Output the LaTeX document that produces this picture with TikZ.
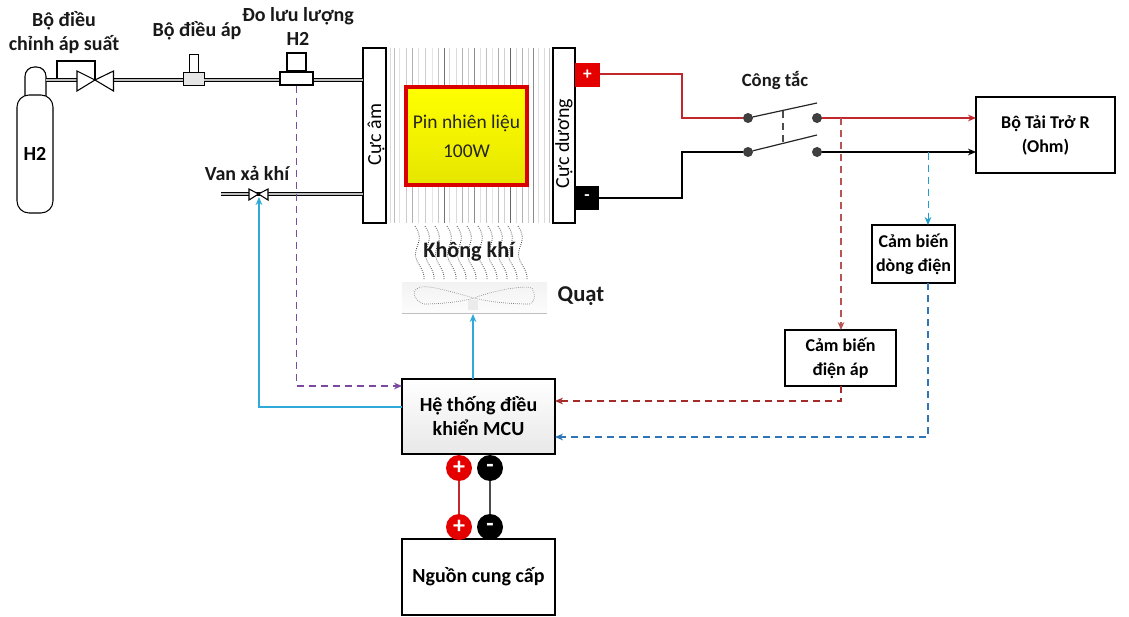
\documentclass[tikz,border=0pt]{standalone}
\usepackage{fontspec}
\setmainfont{Carlito}
\usetikzlibrary{arrows.meta,calc}
\definecolor{wirered}{HTML}{C0282D}
\definecolor{sensred}{HTML}{A52A2A}
\definecolor{sensblue}{HTML}{2E75B6}
\definecolor{ctlcyan}{HTML}{2FA9D8}
\definecolor{ctlviolet}{HTML}{7B4A9E}
\tikzset{
  lbl/.style={font=\fontsize{15}{18}\selectfont\bfseries,align=center,text=black!90,inner sep=0pt},
  frame/.style={draw=black,line width=1.1pt,fill=white,inner sep=0pt,outer sep=0pt,align=center,font=\fontsize{13.5}{18}\selectfont\bfseries},
  pole/.style={frame},
  poletext/.style={rotate=90,inner sep=0pt,font=\fontsize{15}{16}\selectfont,text=black},
  pipe/.style={line width=3.2pt,black,postaction={draw=white!75!black,line width=1.1pt}},
  term/.style={circle,fill=black!75,draw=black!80,inner sep=0pt,minimum size=7pt},
  wred/.style={draw=wirered,line width=1.1pt},
  wblk/.style={draw=black,line width=1.1pt},
  tip/.style={-{Stealth[length=6pt,width=5pt]}},
  sdash/.style={dash pattern=on 5.5pt off 3.5pt,line width=.85pt},
  cyanline/.style={draw=ctlcyan,line width=1pt,tip},
  knob/.style={circle,inner sep=0pt,minimum size=19.5pt,text=white,font=\fontsize{18}{18}\selectfont\bfseries},
}
\newcommand{\pbox}[7][]{% name x1 y1 x2 y2 style text
  \pgfmathsetmacro{\pw}{(#4-#2)*.75}\pgfmathsetmacro{\ph}{(#5-#3)*.75}
  \node[#6,minimum width=\pw pt,minimum height=\ph pt] (#1) at ({(#2+#4)/2},{(#3+#5)/2}) {#7};}
\begin{document}
\begin{tikzpicture}[x=.75pt,y=-.75pt]
\useasboundingbox (0,0) rectangle (1129,617);
% fuel stack fins
\foreach \xx/\gg in {390/14,394/25,399/10,406/20,412/30,418/12,425/20,432/10,438/22,444/55,449/15,456/14,462/30,468/18,474/45,480/12,486/25,492/10,498/32,504/18,510/60,516/14,522/30,528/18,533/45,538/12,544/14,549/22}
  \draw[black!\gg,line width=.7pt] (\xx,48) -- (\xx,223);
% poles and cell
\pbox[neg]{363}{48}{386}{223}{pole}{}
\pbox[pos]{553}{48}{575}{223}{pole}{}
\node[poletext] (negt) at (376,134.5) {Cực âm};
\node[poletext] (post) at (564,143.5) {Cực dương};
\pbox[cell]{406}{87}{527}{185}{draw=red!85!black,line width=2.4pt,top color=yellow,bottom color=yellow!90!black,inner sep=0pt,align=center,font=\fontsize{14.6}{22}\selectfont,text=black!85}{Pin nhiên liệu\\100W}
\pbox[pp]{575}{63}{600}{87}{fill=red!90!black,text=white,inner sep=0pt,font=\fontsize{13}{13}\selectfont\bfseries}{+}
\pbox[pm]{575}{186}{599}{210}{fill=black,text=white,inner sep=0pt,font=\fontsize{13}{13}\selectfont\bfseries}{-}
% cylinder
\draw[line width=.8pt,fill=white,rounded corners=7pt] (25,100) -- (25,67) -- (46,67) -- (46,100);
\pbox[cyl]{17}{95}{53}{213}{draw=black,line width=.8pt,fill=white,rounded corners=9pt,inner sep=0pt,font=\fontsize{15}{18}\selectfont\bfseries}{H2}
\coordinate (neck) at (46,80);
% upper pipe parts
\coordinate (rv) at (95,80);
\coordinate (rvw) at (77,80);\coordinate (rve) at (113.5,80);
\pbox[reg]{183}{72}{204}{85}{draw=black,line width=.7pt,fill=black!10,inner sep=0pt}{}
\pbox[flow]{280}{72}{313}{85}{draw=black,line width=1.6pt,fill=white,inner sep=0pt}{}
\coordinate (p1) at (reg.west |- rv);\coordinate (p2) at (reg.east |- rv);
\coordinate (p3) at (flow.west |- rv);\coordinate (p4) at (flow.east |- rv);
\coordinate (p5) at (neg.west |- rv);
\draw[pipe] (neck) -- (rvw);
\draw[pipe] (rve) -- (p1);
\draw[pipe] (p2) -- (p3);
\draw[pipe] (p4) -- (p5);
% regulating valve
\draw[line width=.8pt,fill=white] (rv) -- (rvw |- 0,71) -- (rvw |- 0,91) -- cycle;
\draw[line width=.8pt,fill=white] (rv) -- (rve |- 0,71) -- (rve |- 0,91) -- cycle;
\draw[line width=.8pt] (57,78) -- (57,61) -- (95,61) -- (rv);
% regulator stem, flow head
\pbox[regs]{189}{54}{198}{72}{draw=black,line width=.7pt,fill=white,inner sep=0pt}{}
\pbox[flowh]{287}{53}{306}{71}{draw=black,line width=1.6pt,fill=white,inner sep=0pt}{}
% vent
\coordinate (vv) at (258.5,194);
\coordinate (ve) at (221,194);
\coordinate (vn) at (neg.west |- vv);
\draw[pipe,line width=3pt] (ve) -- (vn);
\draw[line width=.8pt,fill=white] (vv) -- (249,189) -- (249,200) -- cycle;
\draw[line width=.8pt,fill=white] (vv) -- (268,189) -- (268,200) -- cycle;
% labels
\node[lbl] (l1) at (64,33) {Bộ điều\\chỉnh áp suất};
\node[lbl] (l2) at (197,31) {Bộ điều áp};
\node[lbl] (l3) at (298,26) {Đo lưu lượng\\H2};
\node[lbl] (l4) at (247,173) {Van xả khí};
\node[lbl,font=\fontsize{14}{14}\selectfont\bfseries] (l5) at (775,81) {Công tắc};
\node[lbl,font=\fontsize{16.6}{18}\selectfont\bfseries] (l6) at (469,252) {Không khí};
\node[lbl,font=\fontsize{17}{18}\selectfont\bfseries] (l7) at (581,296) {Quạt};
% switch
\node[term] (t1) at (748,118) {};
\node[term] (t2) at (817,118) {};
\node[term] (t3) at (748,152) {};
\node[term] (t4) at (817,152) {};
\coordinate (b1) at (817,103);\coordinate (b2) at (817,135);
\draw[line width=.9pt,black!85] (t1) -- (b1);
\draw[line width=.9pt,black!85] (t3) -- (b2);
\draw[sdash,black!70] (783,111) -- (783,145);
% boxes
\pbox[load]{976}{97}{1115}{173}{frame,font=\fontsize{13.5}{18}\selectfont\bfseries}{Bộ Tải Trở R\\(Ohm)}
\pbox[ci]{872}{225}{955}{283}{frame}{Cảm biến\\dòng điện}
\pbox[vi]{785}{330}{896}{386}{frame}{Cảm biến\\điện áp}
\pbox[mcu]{402}{379}{555}{454}{frame,top color=white,bottom color=black!9,font=\fontsize{15}{18}\selectfont\bfseries}{Hệ thống điều\\khiển MCU}
\pbox[src]{402}{539}{555}{615}{frame,font=\fontsize{15}{18}\selectfont\bfseries}{Nguồn cung cấp}
% power wires
\draw[wred] (pp.east |- 0,74) -- (682,74) -- (682,118) -- (t1);
\draw[wblk] (pm.east |- 0,198) -- (682,198) -- (682,152) -- (t3);
\draw[wred,tip] (t2) -- (load.west |- t2);
\draw[wblk,tip] (t4) -- (load.west |- t4);
% fan
\pbox[fan]{402}{282}{547}{313}{top color=black!5,bottom color=black!1,inner sep=0pt}{}
\draw[black!25,line width=.8pt] (fan.south west) -- (fan.south east);
\draw[black!50,densely dotted,line width=.5pt] (474,298) .. controls (445,290) and (425,284) .. (418,288) .. controls (410,292) and (416,302) .. (424,304) .. controls (440,304) and (460,302) .. (474,298) .. controls (495,290) and (525,285) .. (532,288) .. controls (536,294) and (535,302) .. (530,304) .. controls (510,304) and (490,302) .. (474,298);
\node[fill=black!8,inner sep=0pt,minimum width=7pt,minimum height=8pt] (hub) at (473,305) {};
% air
\foreach \xx in {415,425,435,447,457,467,478,488,498,508,518}
  \draw[black!75,densely dotted,line width=.6pt] plot[smooth,domain=0:54,samples=13] ({\xx+0.12*\x+3*sin(\x*9)},{226+\x});
% control lines
\coordinate (s1) at (841,118);\coordinate (s2) at (928,152.5);
\draw[sdash,draw=ctlviolet,tip] (flow.south) -- (flow.south |- 0,386) -- (mcu.west |- 0,386);
\draw[cyanline] (mcu.west |- 0,407) -- (259,407) -- (259,197);
\draw[cyanline] (mcu.north -| 473,0) -- (473,314);
\draw[sdash,draw=sensred!80,tip] (s1) -- (s1 |- vi.north);
\draw[sdash,draw=sensred,tip] (s1 |- vi.south) -- (841,401) -- (mcu.east |- 0,401);
\draw[sdash,draw=sensblue!70!cyan,line width=.7pt,tip] (s2) -- (s2 |- ci.north);
\draw[sdash,draw=sensblue,tip] (s2 |- ci.south) -- (928,437) -- (mcu.east |- 0,437);
% knobs
\node[knob,fill=red!90!black] (k1) at (459,468) {+};
\node[knob,fill=black] (k2) at (490,468) {-};
\node[knob,fill=red!90!black] (k3) at (459,527) {+};
\node[knob,fill=black] (k4) at (490,527) {-};
\draw[wred] (k1) -- (k3);
\draw[wblk,draw=black!70] (k2) -- (k4);
\end{tikzpicture}
\end{document}
